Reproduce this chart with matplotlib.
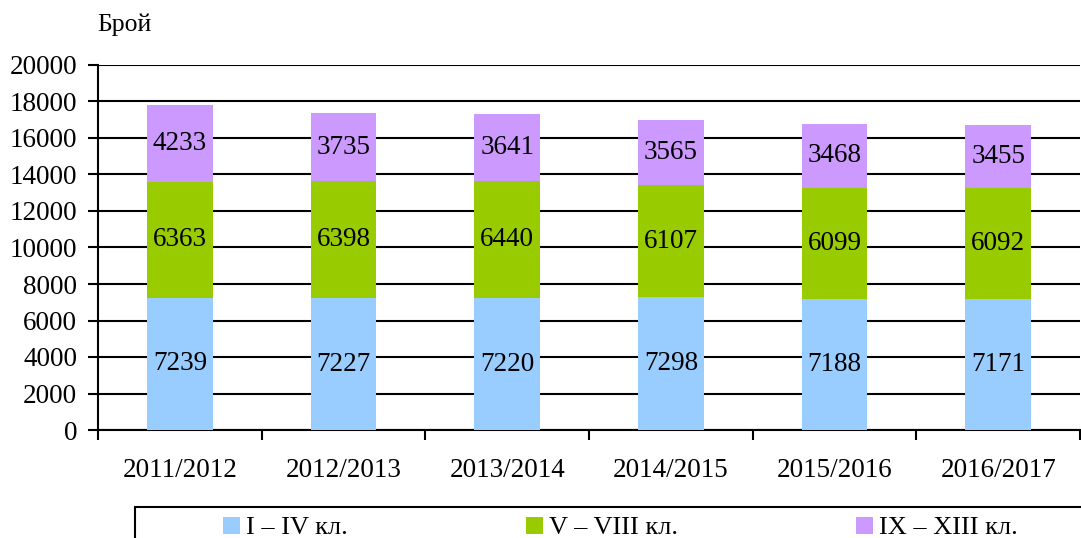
import matplotlib.pyplot as plt
from matplotlib.patches import Rectangle
import numpy as np

years = ['2011/2012', '2012/2013', '2013/2014', '2014/2015', '2015/2016', '2016/2017']
grade_1_4 = [7239, 7227, 7220, 7298, 7188, 7171]
grade_5_8 = [6363, 6398, 6440, 6107, 6099, 6092]
grade_9_13 = [4233, 3735, 3641, 3565, 3468, 3455]
names = ['I – IV кл.', 'V – VIII кл.', 'IX – XIII кл.']
colors = ['#99CCFF', '#99CC00', '#CC99FF']

plt.rcParams['font.family'] = ['Liberation Serif', 'DejaVu Serif']

fig = plt.figure(figsize=(10.81, 5.38), dpi=100)
ax = fig.add_axes([98/1081, 1-430/538, 982/1081, 365/538])

x = np.arange(len(years))
bottom = np.zeros(len(years))
for vals, name, c in zip([grade_1_4, grade_5_8, grade_9_13], names, colors):
    bars = ax.bar(x, vals, 0.4, bottom=bottom, color=c, label=name, zorder=3)
    ax.bar_label(bars, labels=[str(v) for v in vals], label_type='center', fontsize=19.5, zorder=4)
    bottom += np.array(vals)

ax.set_xlim(-0.5, 5.5)
ax.set_ylim(0, 20000)
ax.set_yticks(np.arange(0, 20001, 2000))
ax.yaxis.grid(True, color='black', linewidth=1.5, zorder=0)
ax.set_axisbelow(True)
ax.tick_params(axis='y', labelsize=19.5, length=7, width=1.5, direction='out', pad=8)
ax.set_xticks(x)
ax.set_xticklabels(years)
ax.tick_params(axis='x', which='major', length=0, labelsize=19.5, pad=20)
ax.set_xticks(np.arange(-0.5, 6, 1), minor=True)
ax.tick_params(axis='x', which='minor', length=7, width=1.5, direction='out')
for s in ['top', 'right']:
    ax.spines[s].set_visible(False)
for s in ['left', 'bottom']:
    ax.spines[s].set_linewidth(1.5)

fig.text(97/1081, 1-25/538, 'Брой', fontsize=18.5, va='center', ha='left')

# legend frame runs off the bottom/right edge like in the source
fig.patches.append(Rectangle((135/1081, -0.1), 1.0, 0.1 + (538-507)/538, transform=fig.transFigure,
                             fill=False, edgecolor='black', linewidth=1.5, clip_on=False))
leg = fig.legend(loc='center left', bbox_to_anchor=(223/1081, 1-528/538), ncol=3,
                 fontsize=19, frameon=False, handlelength=0.64,
                 handleheight=0.64, handletextpad=0.23, columnspacing=6.75,
                 borderpad=0, borderaxespad=0)

fig.savefig('out.png', dpi=100)
